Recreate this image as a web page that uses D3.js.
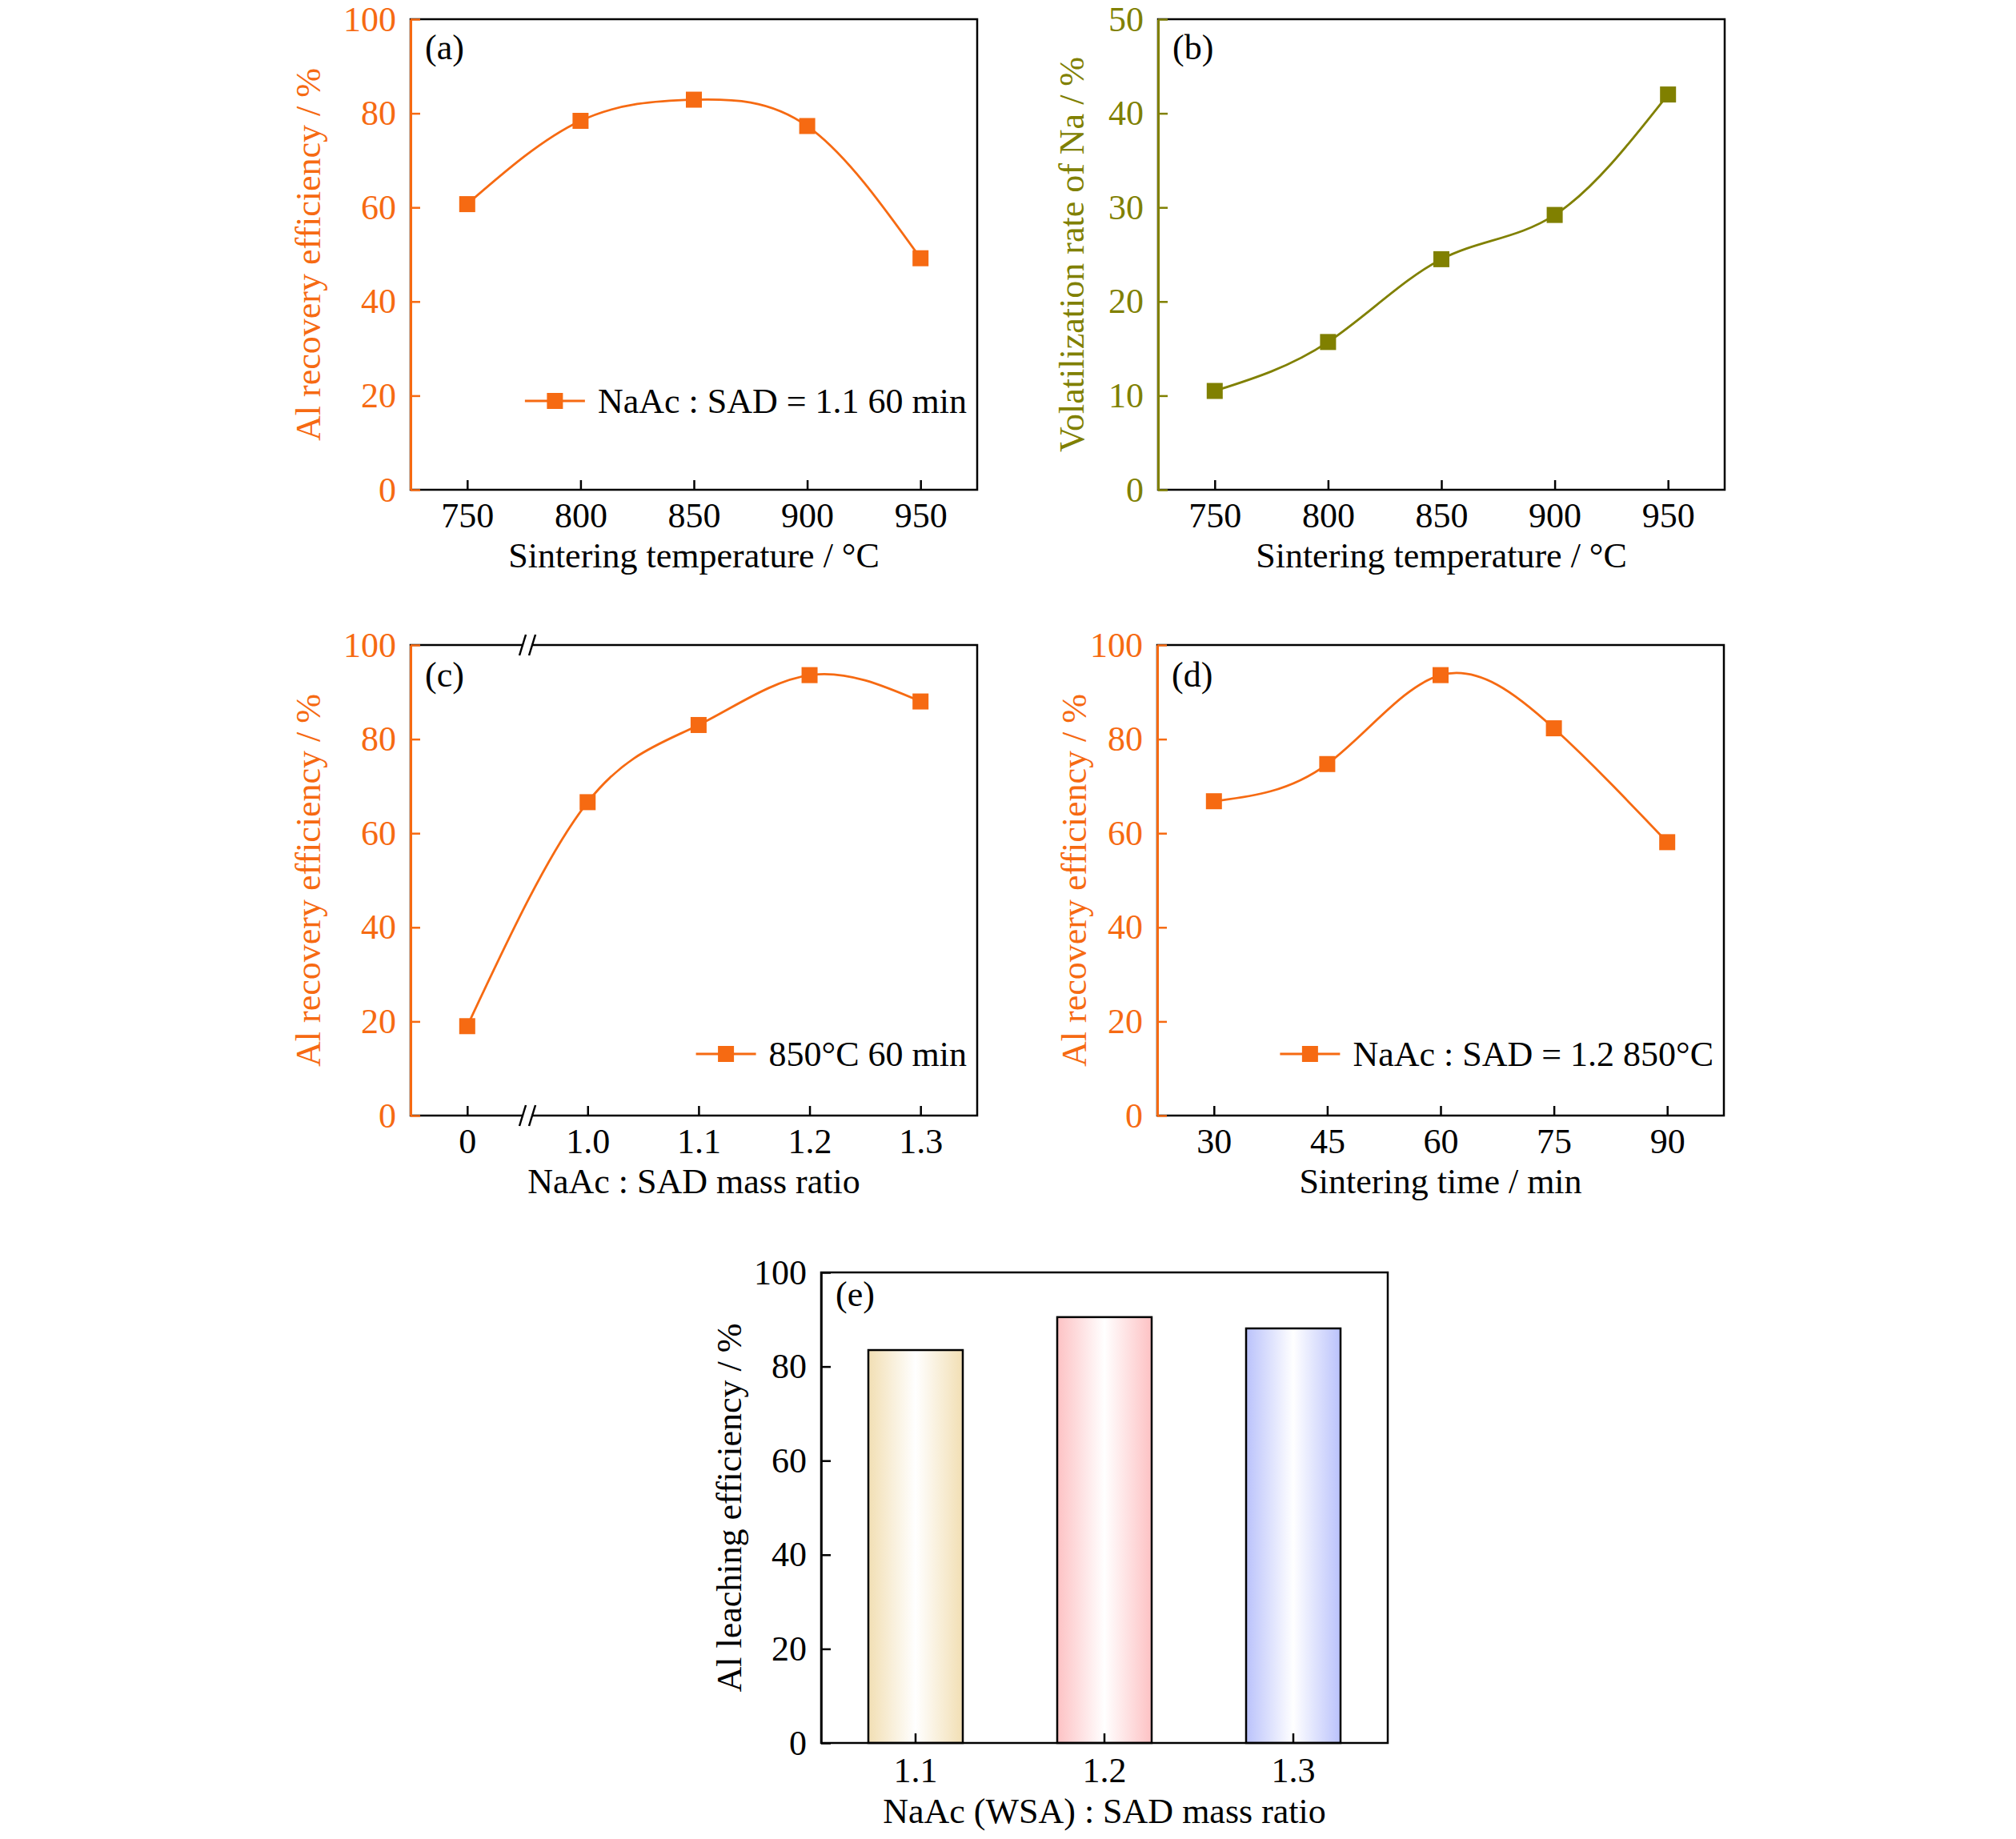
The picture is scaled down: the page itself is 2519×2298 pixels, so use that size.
<!DOCTYPE html>
<html>
<head>
<meta charset="utf-8">
<script src="https://cdn.jsdelivr.net/npm/d3@7"></script>
<style>
  html, body { margin: 0; padding: 0; background: #fff; }
  svg { display: block; }
</style>
</head>
<body>
<svg width="2519" height="2298"></svg>
<script>
// data
const sinterTemp = [750, 800, 850, 900, 950];
const alRecoveryByTemp = [60.7, 78.4, 82.9, 77.3, 49.2];
const naVolatilization = [10.5, 15.7, 24.5, 29.2, 42.0];

const massRatio = [0, 1.0, 1.1, 1.2, 1.3];
const alRecoveryByRatio = [19.0, 66.6, 83.0, 93.6, 88.0];

const sinterTime = [30, 45, 60, 75, 90];
const alRecoveryByTime = [66.8, 74.7, 93.6, 82.3, 58.1];

const wsaRatio = ["1.1", "1.2", "1.3"];
const alLeaching = [83.5, 90.5, 88.1];

const ticks100 = [0, 20, 40, 60, 80, 100];
const ticks50 = [0, 10, 20, 30, 40, 50];

const orange = "#F66A12";
const olive = "#808000";
const barColors = ["#F2DFB4", "#FDC2C4", "#BAC2FB"];
const font = '"Liberation Serif", "Times New Roman", serif';
const fontSize = 44;

const svg = d3.select("svg");
const panelW = 708;
const panelH = 588;
const mark = 20;

const styleAxis = (axisG, color) => {
  axisG
    .attr("font-family", font)
    .attr("font-size", fontSize)
    .attr("color", color);
  axisG.selectAll(".tick line").attr("stroke-width", 2.5);
};

const drawFrame = (g) => {
  g.append("rect")
    .attr("width", panelW)
    .attr("height", panelH)
    .attr("fill", "none")
    .attr("stroke", "#000")
    .attr("stroke-width", 2.5);
};

const addTitles = (g, { label, labelDy, xTitle, xTitleDy, yTitle, yTitleOffset, color }) => {
  g.append("text")
    .attr("x", 18)
    .attr("y", labelDy)
    .attr("font-family", font)
    .attr("font-size", fontSize)
    .text(label);

  g.append("text")
    .attr("x", panelW / 2)
    .attr("y", panelH + xTitleDy)
    .attr("text-anchor", "middle")
    .attr("font-family", font)
    .attr("font-size", fontSize)
    .text(xTitle);

  g.append("text")
    .attr("transform", "rotate(-90)")
    .attr("x", -panelH / 2)
    .attr("y", -yTitleOffset)
    .attr("text-anchor", "middle")
    .attr("font-family", font)
    .attr("font-size", fontSize)
    .attr("fill", color)
    .text(yTitle);
};

// one line panel (a)-(d)
const linePanel = (opts) => {
  const { left, top, xs, ys, xScale, xTickFormat, yMax, yTicks, color, legend, legendBottom } = opts;
  const g = svg.append("g").attr("transform", `translate(${left},${top})`);
  const yScale = d3.scaleLinear().domain([0, yMax]).range([panelH, 0]);

  drawFrame(g);

  const xAxisG = g
    .append("g")
    .attr("transform", `translate(0,${panelH})`)
    .call(
      d3.axisBottom(xScale)
        .tickValues(xs)
        .tickFormat(xTickFormat)
        .tickSizeInner(-12)
        .tickSizeOuter(0)
        .tickPadding(16)
    );
  xAxisG.select(".domain").remove();
  styleAxis(xAxisG, "#000");

  const yAxisG = g
    .append("g")
    .call(
      d3.axisLeft(yScale)
        .tickValues(yTicks)
        .tickSizeInner(-12)
        .tickSizeOuter(0)
        .tickPadding(18)
    );
  styleAxis(yAxisG, color);
  yAxisG.select(".domain").attr("stroke-width", 3);

  const pts = d3.zip(xs, ys);
  const lineGen = d3
    .line()
    .x((d) => xScale(d[0]))
    .y((d) => yScale(d[1]))
    .curve(d3.curveNatural);

  g.append("path")
    .datum(pts)
    .attr("d", lineGen)
    .attr("fill", "none")
    .attr("stroke", color)
    .attr("stroke-width", 2.8);

  g.selectAll(".pt")
    .data(pts)
    .enter()
    .append("rect")
    .attr("class", "pt")
    .attr("x", (d) => xScale(d[0]) - mark / 2)
    .attr("y", (d) => yScale(d[1]) - mark / 2)
    .attr("width", mark)
    .attr("height", mark)
    .attr("fill", color);

  // legend, right aligned in the frame
  if (legend) {
    const lg = g.append("g").attr("transform", `translate(${panelW - 13},${panelH - legendBottom})`);
    const txt = lg
      .append("text")
      .attr("text-anchor", "end")
      .attr("dy", "0.33em")
      .attr("font-family", font)
      .attr("font-size", fontSize)
      .text(legend);
    const len = txt.node().getComputedTextLength();
    const x1 = -len - 16;
    const x0 = x1 - 75;
    lg.append("line")
      .attr("x1", x0)
      .attr("x2", x1)
      .attr("stroke", color)
      .attr("stroke-width", 2.8);
    lg.append("rect")
      .attr("x", (x0 + x1) / 2 - mark / 2)
      .attr("y", -mark / 2)
      .attr("width", mark)
      .attr("height", mark)
      .attr("fill", color);
  }

  addTitles(g, opts);
  return g;
};

// (a)
const tempScale = () => d3.scaleLinear().domain([725, 975]).range([0, panelW]);

linePanel({
  left: 513, top: 24,
  xs: sinterTemp, ys: alRecoveryByTemp,
  xScale: tempScale(), xTickFormat: d3.format("d"),
  yMax: 100, yTicks: ticks100, color: orange,
  legend: "NaAc : SAD = 1.1 60 min", legendBottom: 111,
  label: "(a)", labelDy: 50,
  xTitle: "Sintering temperature / \u00B0C", xTitleDy: 97,
  yTitle: "Al recovery efficiency / %", yTitleOffset: 113
});

// (b)
linePanel({
  left: 1447, top: 24,
  xs: sinterTemp, ys: naVolatilization,
  xScale: tempScale(), xTickFormat: d3.format("d"),
  yMax: 50, yTicks: ticks50, color: olive,
  label: "(b)", labelDy: 50,
  xTitle: "Sintering temperature / \u00B0C", xTitleDy: 97,
  yTitle: "Volatilization rate of Na / %", yTitleOffset: 93
});

// (c) broken axis between 0 and 1.0
const ratioScale = d3
  .scaleLinear()
  .domain([0, 1.0, 1.3])
  .range([0.1 * panelW, 0.3125 * panelW, 0.9 * panelW]);

const gc = linePanel({
  left: 513, top: 806,
  xs: massRatio, ys: alRecoveryByRatio,
  xScale: ratioScale, xTickFormat: (d) => (d === 0 ? "0" : d3.format(".1f")(d)),
  yMax: 100, yTicks: ticks100, color: orange,
  legend: "850\u00B0C 60 min", legendBottom: 77,
  label: "(c)", labelDy: 52,
  xTitle: "NaAc : SAD mass ratio", xTitleDy: 97,
  yTitle: "Al recovery efficiency / %", yTitleOffset: 113
});

const bx = (ratioScale(0) + ratioScale(1.0)) / 2;
[0, panelH].forEach((yy) => {
  const brk = gc.append("g").attr("transform", `translate(${bx},${yy})`);
  brk.append("rect")
    .attr("x", -5).attr("y", -3)
    .attr("width", 10).attr("height", 6)
    .attr("fill", "#fff");
  [-6, 6].forEach((dx) => {
    brk.append("line")
      .attr("x1", dx - 4).attr("y1", 13)
      .attr("x2", dx + 4).attr("y2", -13)
      .attr("stroke", "#000")
      .attr("stroke-width", 2.5);
  });
});

// (d)
linePanel({
  left: 1446, top: 806,
  xs: sinterTime, ys: alRecoveryByTime,
  xScale: d3.scaleLinear().domain([22.5, 97.5]).range([0, panelW]), xTickFormat: d3.format("d"),
  yMax: 100, yTicks: ticks100, color: orange,
  legend: "NaAc : SAD = 1.2 850\u00B0C", legendBottom: 77,
  label: "(d)", labelDy: 52,
  xTitle: "Sintering time / min", xTitleDy: 97,
  yTitle: "Al recovery efficiency / %", yTitleOffset: 89
});

// (e) bar chart
const defs = svg.append("defs");
barColors.forEach((c, i) => {
  const grad = defs
    .append("linearGradient")
    .attr("id", `bar-grad-${i}`)
    .attr("x1", "0%").attr("x2", "100%")
    .attr("y1", "0%").attr("y2", "0%");
  grad.append("stop").attr("offset", "0%").attr("stop-color", c);
  grad.append("stop").attr("offset", "50%").attr("stop-color", "#fff");
  grad.append("stop").attr("offset", "100%").attr("stop-color", c);
});

const ge = svg.append("g").attr("transform", "translate(1026,1590)");
const xBand = d3
  .scaleBand()
  .domain(wsaRatio)
  .range([0, panelW])
  .paddingInner(0.5)
  .paddingOuter(0.25);
const yBar = d3.scaleLinear().domain([0, 100]).range([panelH, 0]);

ge.selectAll(".bar")
  .data(d3.zip(wsaRatio, alLeaching))
  .enter()
  .append("rect")
  .attr("class", "bar")
  .attr("x", (d) => xBand(d[0]))
  .attr("y", (d) => yBar(d[1]))
  .attr("width", xBand.bandwidth())
  .attr("height", (d) => panelH - yBar(d[1]))
  .attr("fill", (d, i) => `url(#bar-grad-${i})`)
  .attr("stroke", "#000")
  .attr("stroke-width", 2.5);

drawFrame(ge);

const xAxisE = ge
  .append("g")
  .attr("transform", `translate(0,${panelH})`)
  .call(d3.axisBottom(xBand).tickSizeInner(-12).tickSizeOuter(0).tickPadding(18));
xAxisE.select(".domain").remove();
styleAxis(xAxisE, "#000");

const yAxisE = ge
  .append("g")
  .call(d3.axisLeft(yBar).tickValues(ticks100).tickSizeInner(-12).tickSizeOuter(0).tickPadding(18));
styleAxis(yAxisE, "#000");
yAxisE.select(".domain").attr("stroke-width", 2.5);

addTitles(ge, {
  label: "(e)", labelDy: 42,
  xTitle: "NaAc (WSA) : SAD mass ratio", xTitleDy: 100,
  yTitle: "Al leaching efficiency / %", yTitleOffset: 100,
  color: "#000"
});
</script>
</body>
</html>
